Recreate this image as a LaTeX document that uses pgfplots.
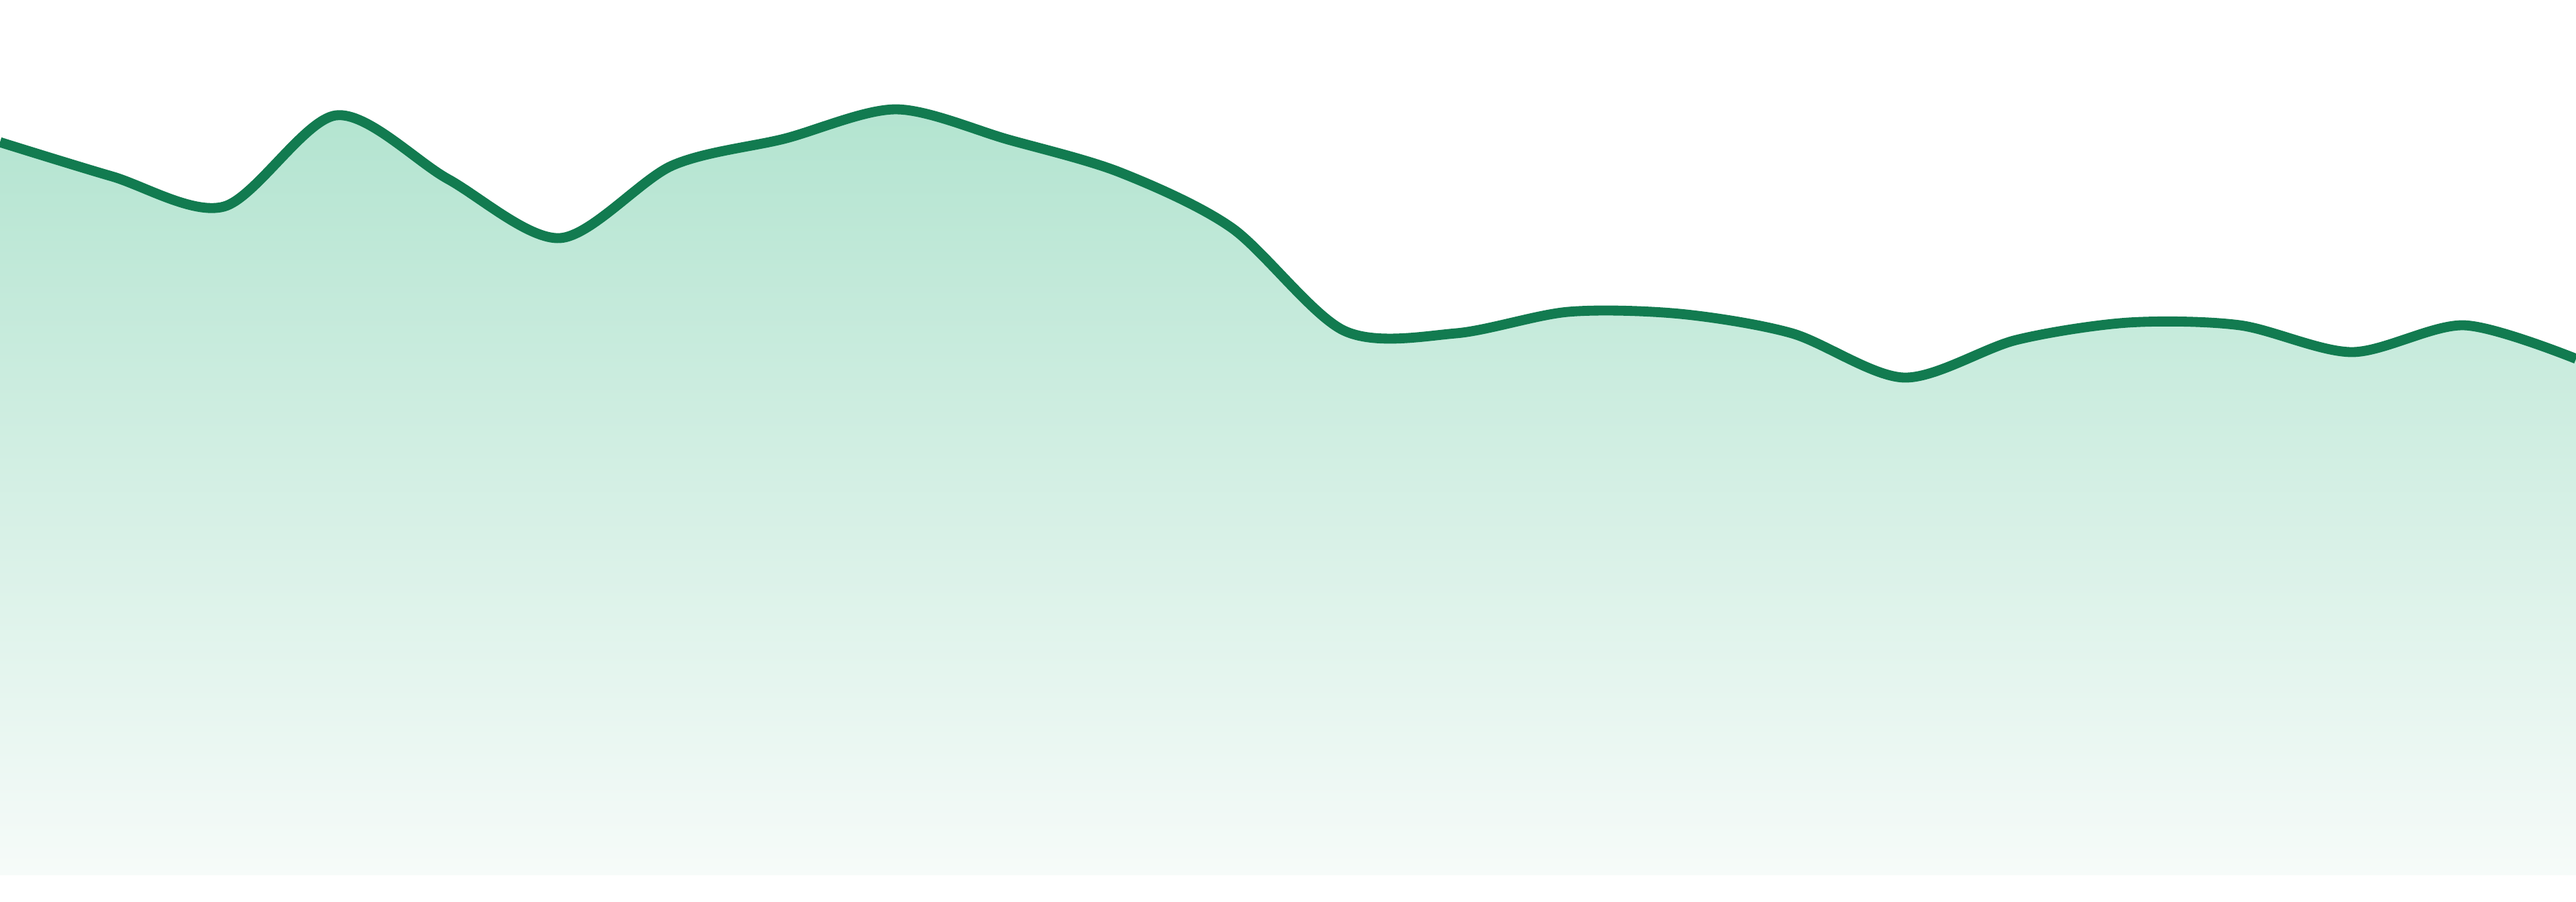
\documentclass[border=0pt]{standalone}
\usepackage{pgfplots}
\pgfplotsset{compat=1.18}

\definecolor{linegreen}{HTML}{127B50}
\definecolor{filltop}{HTML}{B3E4D0}
\definecolor{fillbot}{HTML}{F6FBF9}

\begin{document}
\begin{tikzpicture}
\begin{axis}[
    scale only axis,
    width=20cm, height=6.797cm,
    at={(0,0.2031cm)}, anchor=south west,
    xmin=0, xmax=23,
    ymin=0, ymax=1305,
    hide axis,
    clip=true,
    ]
    % area below the line
    \addplot[draw=none, top color=filltop, bottom color=fillbot, smooth, tension=0.5]
    coordinates {
    (0,1093) (1,1042) (2,997) (3,1133) (4,1038) (5,950) (6,1058) (7,1098)
    (8,1142) (9,1097) (10,1048) (11,965) (12,812) (13,808) (14,840) (15,837)
    (16,808) (17,742) (18,798) (19,824) (20,820) (21,780) (22,820) (23,770)
    } \closedcycle;
    \addplot[linegreen, line width=2.2pt, smooth, tension=0.5]
    coordinates {
    (0,1093) (1,1042) (2,997) (3,1133) (4,1038) (5,950) (6,1058) (7,1098)
    (8,1142) (9,1097) (10,1048) (11,965) (12,812) (13,808) (14,840) (15,837)
    (16,808) (17,742) (18,798) (19,824) (20,820) (21,780) (22,820) (23,770)
    };
\end{axis}
\pgfresetboundingbox
\path (0,0) rectangle (20cm,7cm);
\end{tikzpicture}
\end{document}
